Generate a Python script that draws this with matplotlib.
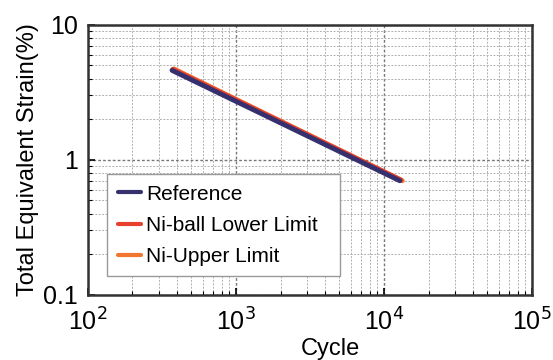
import matplotlib
matplotlib.use("Agg")
import matplotlib.pyplot as plt

plt.rcParams["font.family"] = ["Liberation Sans", "DejaVu Sans"]

# Data (cycles vs total equivalent strain %)
ref_cycle = [370, 12800]
ref_strain = [4.6, 0.70]
lower_cycle = [375, 13000]
lower_strain = [4.68, 0.71]
upper_cycle = [380, 13300]
upper_strain = [4.72, 0.70]

series_labels = ["Reference", "Ni-ball Lower Limit", "Ni-Upper Limit"]
series_colors = ["#36306e", "#e8402c", "#f2762e"]

fig = plt.figure(figsize=(5.53, 3.6), dpi=100)
ax = fig.add_axes([0.159, 0.181, 0.803, 0.75])

ax.plot(upper_cycle, upper_strain, color=series_colors[2], lw=3.5,
        solid_capstyle="round", label=series_labels[2], zorder=3)
ax.plot(lower_cycle, lower_strain, color=series_colors[1], lw=3.5,
        solid_capstyle="round", label=series_labels[1], zorder=4)
ax.plot(ref_cycle, ref_strain, color=series_colors[0], lw=3.5,
        solid_capstyle="round", label=series_labels[0], zorder=5)

ax.set_xscale("log")
ax.set_yscale("log")
ax.set_xlim(1e2, 1e5)
ax.set_ylim(0.1, 10)

ax.set_xticks([1e2, 1e3, 1e4, 1e5])
ax.set_xticklabels(["10$^2$", "10$^3$", "10$^4$", "10$^5$"])
ax.set_yticks([0.1, 1, 10])
ax.set_yticklabels(["0.1", "1", "10"])

ax.grid(True, which="major", color="#777777", ls=(0, (2, 1.5)), lw=1.0)
ax.grid(True, which="minor", color="#b0b0b0", ls=(0, (2, 1.5)), lw=0.7)

ax.tick_params(which="both", direction="in", top=False, right=False)
ax.tick_params(which="major", length=5, width=1.2, labelsize=18)
ax.tick_params(axis="x", which="major", pad=10)
ax.tick_params(axis="y", which="major", pad=7)
ax.tick_params(which="minor", length=3, width=0.8)
for s in ax.spines.values():
    s.set_linewidth(1.8)
    s.set_color("#333333")

ax.set_xlabel("Cycle", fontsize=17)
ax.xaxis.set_label_coords(0.545, -0.16)
ax.set_ylabel("Total Equivalent Strain(%)", fontsize=17, labelpad=3)

handles, labels = ax.get_legend_handles_labels()
order = [2, 1, 0]
leg = ax.legend([handles[i] for i in order], [labels[i] for i in order],
                loc="lower left", mode="expand", fontsize=15,
                handlelength=1.1, handletextpad=0.25, borderpad=0.5,
                labelspacing=0.58, fancybox=False, framealpha=1,
                edgecolor="#999999",
                bbox_to_anchor=(0.02, 0.03, 0.57, 0.4))
leg.get_frame().set_linewidth(1.0)
for line in leg.get_lines():
    line.set_linewidth(3)

fig.savefig("out.png", dpi=100)
